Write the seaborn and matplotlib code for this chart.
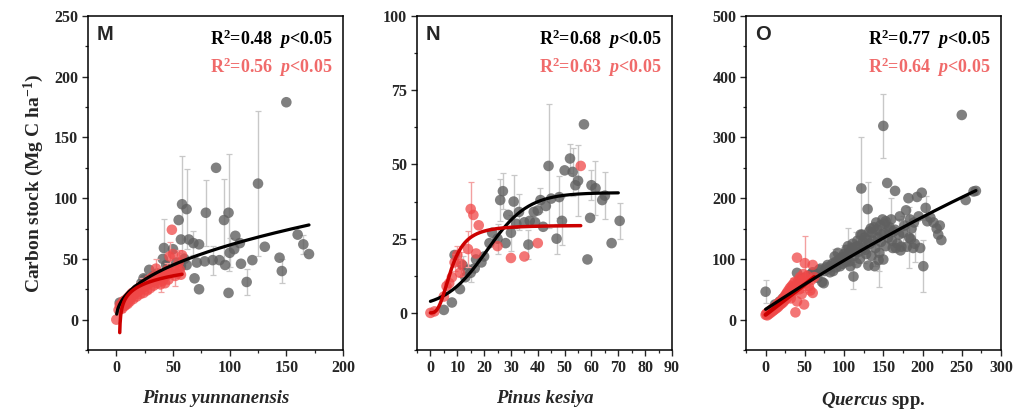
import numpy as np
import pandas as pd
import matplotlib
matplotlib.use("Agg")
import matplotlib.pyplot as plt
import seaborn as sns
from matplotlib.ticker import MultipleLocator

# ---------------- data ----------------
# Panel M: Pinus yunnanensis
m_gray_x = [3, 8, 12, 18, 22, 24, 25, 29, 33, 36, 41, 42, 44, 46, 50, 53, 55, 57, 57, 58,
            60, 62, 62, 64, 68, 69, 71, 73, 73, 78, 79, 85, 88, 91, 95, 96, 99, 99, 100, 104,
            105, 109, 110, 115, 120, 125, 131, 144, 146, 150, 160, 165, 170]
m_gray_y = [14, 16, 19, 25, 30, 34, 33, 41, 36, 38, 50, 59, 45, 44, 58, 47, 82, 44, 66, 95,
            50, 91, 45, 66, 63, 34, 47, 62, 25, 48, 88, 49, 125, 49, 82, 45, 88, 22, 55, 58,
            69, 63, 46, 31, 49, 112, 60, 51, 40, 179, 70, 62, 54]
m_gray_e = [0, 0, 0, 0, 0, 0, 0, 0, 0, 0, 0, 24, 0, 0, 0, 0, 0, 0, 0, 40,
            0, 33, 0, 0, 10, 0, 0, 0, 0, 0, 27, 12, 0, 0, 34, 0, 48, 0, 12, 0,
            0, 0, 0, 11, 0, 60, 0, 0, 10, 0, 0, 8, 0]
m_red_x = [0, 2, 3, 4, 5, 5, 6, 7, 8, 8, 9, 10, 10, 11, 12, 12, 13, 14, 15, 16,
           17, 18, 19, 20, 21, 22, 23, 24, 25, 26, 27, 28, 29, 30, 31, 32, 33, 34, 35, 36,
           37, 38, 39, 40, 41, 42, 43, 44, 45, 46, 47, 48, 49, 50, 51, 52, 53, 54, 55, 56, 57, 58]
m_red_y = [0, 8, 12, 10, 13, 9, 15, 11, 16, 12, 14, 18, 13, 16, 20, 15, 18, 22, 17, 21,
           24, 19, 23, 26, 21, 25, 28, 22, 27, 30, 24, 29, 33, 26, 31, 35, 28, 32, 42, 30,
           34, 37, 29, 35, 32, 38, 30, 36, 41, 33, 52, 38, 74, 54, 40, 36, 43, 38, 47, 41, 37, 53]
m_red_e = [0, 0, 0, 0, 0, 3, 0, 0, 0, 0, 3, 0, 0, 0, 4, 0, 0, 0, 0, 5,
           0, 0, 0, 5, 0, 0, 6, 0, 0, 0, 0, 7, 0, 0, 0, 0, 0, 0, 8, 0,
           0, 0, 6, 0, 0, 0, 0, 0, 6, 0, 12, 0, 0, 0, 0, 8, 0, 0, 10, 0, 0, 0]

# Panel N: Pinus kesiya
n_gray_x = [5, 8, 9, 11, 12, 13, 14, 15, 16.5, 17, 19, 20, 22, 23, 25, 26, 27, 28, 29, 30,
            31, 32, 33, 35, 36.5, 37, 38.5, 39, 40, 41, 42, 43, 44, 45, 47, 48, 49, 50, 52, 53,
            54, 55, 57.2, 58.5, 59.5, 60, 61.5, 64, 65, 67.5, 70.5]
n_gray_y = [1, 3.5, 19.5, 8, 16, 12, 14.5, 13.5, 15, 18, 17, 19, 23.5, 27, 25, 38, 41, 23.5, 33, 27,
            37.5, 30, 34, 30.5, 23, 31, 34, 30.5, 34.5, 38, 29, 36, 49.5, 38.5, 25, 39, 31, 48, 52, 47.5,
            43, 44.5, 63.5, 18, 32, 43, 42, 38, 39.5, 23.5, 31]
n_gray_e = [0, 0, 0, 0, 3, 0, 0, 3, 0, 0, 0, 0, 0, 0, 5, 7, 6, 0, 0, 6,
            9, 0, 6, 0, 5, 0, 0, 0, 0, 4, 0, 0, 21, 0, 5, 7, 8, 0, 5, 8,
            0, 12, 0, 0, 0, 5, 9, 0, 8, 0, 6]
n_red_x = [0, 1.5, 5, 6, 7, 8, 9, 10, 11, 11.5, 14, 15, 16, 17, 18, 25, 30, 35, 40, 56]
n_red_y = [0, 0.5, 5.5, 9, 10, 12, 17, 19.5, 13.5, 16.5, 21.5, 35, 33, 20, 29.5, 22.5, 18.5, 19, 23.5, 49.5]
n_red_e = [0, 0, 0, 0, 0, 0, 3, 3, 0, 4, 6, 9, 0, 0, 0, 0, 0, 0, 0, 0]

# Panel O: Quercus spp.
o_gray_x = [0, 12, 18, 22, 26, 30, 34, 38, 40, 42, 45, 48, 52, 55, 58, 60, 63, 66, 68, 70,
            72, 74, 75, 77, 79, 80, 82, 83, 85, 86, 88, 89, 90, 92, 93, 95, 96, 97, 98, 100,
            101, 102, 103, 104, 105, 106, 107, 108, 110, 111, 112, 113, 114, 115, 116, 117, 118, 119, 120, 121,
            122, 123, 124, 125, 126, 127, 128, 129, 130, 131, 132, 133, 134, 135, 136, 137, 138, 139, 140, 141,
            142, 143, 144, 145, 146, 147, 148, 149, 150, 150, 151, 152, 153, 153, 155, 156, 157, 158, 160, 161,
            162, 163, 165, 165, 166, 168, 170, 171, 172, 173, 175, 177, 179, 180, 182, 183, 184, 185, 186, 188,
            189, 190, 193, 195, 197, 199, 201, 204, 206, 210, 214, 218, 220, 222, 224, 250, 255, 265, 268]
o_gray_y = [46, 25, 30, 35, 40, 45, 52, 55, 77, 60, 65, 68, 70, 72, 75, 78, 76, 69, 82, 84,
            62, 60, 80, 86, 90, 84, 78, 88, 92, 80, 104, 95, 86, 110, 98, 88, 102, 99, 92, 108,
            104, 95, 115, 100, 121, 110, 96, 88, 118, 125, 71, 105, 112, 120, 93, 130, 121, 112, 100, 140,
            216, 140, 128, 118, 135, 115, 108, 132, 182, 89, 145, 125, 150, 105, 143, 130, 152, 88, 118, 160,
            148, 135, 98, 110, 155, 128, 140, 165, 319, 99, 142, 158, 162, 121, 225, 135, 148, 152, 165, 130,
            118, 145, 212, 148, 118, 125, 140, 170, 114, 120, 143, 155, 180, 120, 200, 135, 165, 133, 150, 118,
            160, 125, 202, 170, 118, 209, 88, 184, 162, 168, 160, 150, 140, 155, 131, 337, 197, 211, 212]
o_gray_e = [19, 0, 0, 0, 0, 0, 0, 0, 0, 0, 0, 0, 0, 0, 0, 0, 0, 0, 0, 0,
            0, 0, 0, 0, 0, 0, 0, 0, 0, 0, 12, 0, 0, 0, 0, 0, 0, 0, 0, 15,
            0, 0, 0, 0, 30, 0, 0, 0, 0, 0, 20, 0, 0, 25, 0, 0, 0, 0, 0, 0,
            84, 0, 0, 25, 0, 0, 0, 0, 45, 0, 0, 0, 0, 0, 0, 0, 0, 0, 30, 0,
            0, 0, 45, 30, 0, 0, 0, 0, 53, 0, 0, 0, 0, 0, 0, 0, 0, 0, 35, 0,
            0, 0, 0, 0, 0, 0, 25, 0, 0, 0, 28, 0, 0, 0, 0, 50, 0, 0, 0, 0,
            0, 30, 0, 0, 0, 0, 43, 20, 0, 0, 0, 0, 0, 0, 0, 0, 0, 0, 0]
o_red_x = [0, 1, 2, 3, 4, 5, 6, 7, 8, 9, 10, 11, 12, 13, 14, 15, 16, 17, 18, 19,
           20, 21, 22, 23, 24, 25, 26, 27, 28, 29, 30, 31, 32, 33, 34, 35, 36, 37, 38, 38,
           40, 40, 41, 42, 43, 44, 45, 46, 47, 48, 49, 50, 51, 52, 53, 55, 57, 58, 60, 60, 62]
o_red_y = [8, 10, 7, 12, 9, 14, 11, 16, 13, 18, 15, 20, 17, 22, 19, 25, 21, 28, 24, 30,
           26, 33, 28, 36, 31, 40, 34, 44, 37, 48, 40, 52, 35, 55, 44, 58, 47, 62, 12, 50,
           102, 30, 56, 65, 50, 70, 58, 42, 65, 75, 25, 93, 60, 68, 72, 55, 48, 65, 44, 90, 70]
o_red_e = [0, 0, 0, 0, 0, 0, 0, 0, 0, 0, 0, 0, 0, 0, 0, 0, 0, 0, 0, 0,
           0, 0, 0, 0, 0, 8, 0, 0, 0, 0, 0, 0, 0, 0, 0, 10, 0, 0, 0, 0,
           0, 0, 0, 0, 0, 0, 12, 0, 0, 0, 0, 45, 0, 0, 0, 10, 0, 0, 0, 0, 0]

# Fitted curves (model parameters)
m_black_power = (7.77, 0.449)                # y = a * x^b
m_red_log = (3.07, 8.55, 2.8)                # y = a + b*ln(x - c)
n_black_logistic = (1.5, 39.0, 0.13, 21.0)   # y = y0 + A / (1 + exp(-k (x - x0)))
n_red_hill = (29.5, 2.8, 7.8)                # y = A x^n / (K^n + x^n)
o_black_quad = (17.0, 0.85, -0.00045)        # y = a + b x + c x^2
o_red_lin = (8.0, 1.0)                       # y = a + b x

stats_black = ["0.48", "0.68", "0.77"]
stats_red = ["0.56", "0.63", "0.64"]
panel_letters = ["M", "N", "O"]
x_titles = ["Pinus yunnanensis", "Pinus kesiya", r"$Quercus$ spp."]
y_title = "Carbon stock (Mg C ha$^{-1}$)"

# ---------------- style ----------------
sns.set_theme(style="white")
plt.rcParams.update({
    "font.family": ["Liberation Serif", "DejaVu Serif"],
    "font.weight": "bold",
    "mathtext.fontset": "custom",
    "mathtext.rm": "Liberation Serif:bold",
    "mathtext.it": "Liberation Serif:italic:bold",
    "mathtext.bf": "Liberation Serif:bold",
    "axes.linewidth": 1.1,
    "axes.edgecolor": "black",
})

GRAY = "#606060"
RED = "#f04848"
DARK_RED = "#cc0000"
GRAY_ERR = "#c8c8c8"
RED_ERR = "#f3a0a0"

fig = plt.figure(figsize=(10.16, 4.12), dpi=100)
lefts = [88 / 1016, 417 / 1016, 746 / 1016]
bottom = 1 - 350 / 412
height = 334 / 412
width = 255 / 1016
axes = [fig.add_axes([l, bottom, width, height]) for l in lefts]

panels = [
    dict(gx=m_gray_x, gy=m_gray_y, ge=m_gray_e, rx=m_red_x, ry=m_red_y, re=m_red_e,
         xlim=(-25, 200), ylim=(-25, 250), xmaj=50, ymaj=50),
    dict(gx=n_gray_x, gy=n_gray_y, ge=n_gray_e, rx=n_red_x, ry=n_red_y, re=n_red_e,
         xlim=(-5, 90), ylim=(-12.5, 100), xmaj=10, ymaj=25),
    dict(gx=o_gray_x, gy=o_gray_y, ge=o_gray_e, rx=o_red_x, ry=o_red_y, re=o_red_e,
         xlim=(-25, 300), ylim=(-50, 500), xmaj=50, ymaj=100),
]


def draw_errors(ax, x, y, e, color, z):
    x, y, e = map(np.asarray, (x, y, e))
    keep = e > 0
    ax.errorbar(x[keep], y[keep], yerr=e[keep], fmt="none", ecolor=color,
                elinewidth=1.0, capsize=2.5, capthick=0.9, zorder=z)


def draw_curve(ax, xs, ys, color, lw, z):
    sns.lineplot(x=xs, y=ys, ax=ax, color=color, linewidth=lw, zorder=z,
                 solid_capstyle="round", sort=False)


for i, (ax, p) in enumerate(zip(axes, panels)):
    draw_errors(ax, p["gx"], p["gy"], p["ge"], GRAY_ERR, 1)
    sns.scatterplot(x=p["gx"], y=p["gy"], ax=ax, color=GRAY, s=58, alpha=0.8,
                    edgecolor="none", linewidth=0, zorder=2)
    draw_errors(ax, p["rx"], p["ry"], p["re"], RED_ERR, 3)
    sns.scatterplot(x=p["rx"], y=p["ry"], ax=ax, color=RED, s=58, alpha=0.75,
                    edgecolor="none", linewidth=0, zorder=4)

# Fitted curves
xs = np.linspace(0.3, 170, 200)
draw_curve(axes[0], xs, m_black_power[0] * xs ** m_black_power[1], "black", 2.3, 5)
xs = np.linspace(3.0, 58, 200)
a, b, c = m_red_log
draw_curve(axes[0], xs, a + b * np.log(xs - c), DARK_RED, 2.5, 6)

xs = np.linspace(0, 70, 200)
y0, A, k, x0 = n_black_logistic
draw_curve(axes[1], xs, y0 + A / (1 + np.exp(-k * (xs - x0))), "black", 2.3, 5)
xs = np.linspace(0, 56, 200)
A, n, K = n_red_hill
draw_curve(axes[1], xs, A * xs ** n / (K ** n + xs ** n), DARK_RED, 2.5, 6)

xs = np.linspace(0, 62, 100)
draw_curve(axes[2], xs, o_red_lin[0] + o_red_lin[1] * xs, DARK_RED, 3.0, 5)
xs = np.linspace(0, 268, 200)
a, b, c = o_black_quad
draw_curve(axes[2], xs, a + b * xs + c * xs ** 2, "black", 2.3, 6)

for i, (ax, p) in enumerate(zip(axes, panels)):
    ax.set_xlim(*p["xlim"])
    ax.set_ylim(*p["ylim"])
    ax.xaxis.set_major_locator(MultipleLocator(p["xmaj"]))
    ax.xaxis.set_minor_locator(MultipleLocator(p["xmaj"] / 2))
    ax.yaxis.set_major_locator(MultipleLocator(p["ymaj"]))
    ax.yaxis.set_minor_locator(MultipleLocator(p["ymaj"] / 2))
    ax.tick_params(axis="both", which="major", direction="out", length=4, width=1.0,
                   labelsize=11.5, bottom=True, left=True, top=False, right=False, pad=3)
    ax.tick_params(axis="both", which="minor", direction="out", length=2.2, width=0.9,
                   bottom=True, left=True, top=False, right=False)
    for lab in ax.get_xticklabels() + ax.get_yticklabels():
        lab.set_fontweight("bold")
    for s in ax.spines.values():
        s.set_visible(True)
        s.set_linewidth(1.1)
        s.set_color("black")

    style = "normal" if i == 2 else "italic"
    ax.set_xlabel(x_titles[i], fontsize=13.5, fontweight="bold", fontstyle=style, labelpad=10)
    ax.set_ylabel("")

    ax.text(0.035, 0.945, panel_letters[i], transform=ax.transAxes, ha="left", va="center",
            fontsize=14.5, fontweight="bold", family=["Liberation Sans", "DejaVu Sans"])
    ax.text(0.96, 0.93, "R$^{2}$=" + stats_black[i] + "  $p$<0.05", transform=ax.transAxes,
            ha="right", va="center", fontsize=13, fontweight="bold", color="black")
    ax.text(0.96, 0.845, "R$^{2}$=" + stats_red[i] + "  $p$<0.05", transform=ax.transAxes,
            ha="right", va="center", fontsize=13, fontweight="bold", color="#f06a6a")

axes[0].set_ylabel(y_title, fontsize=14, fontweight="bold", labelpad=6)

fig.savefig("out.png", dpi=100)
